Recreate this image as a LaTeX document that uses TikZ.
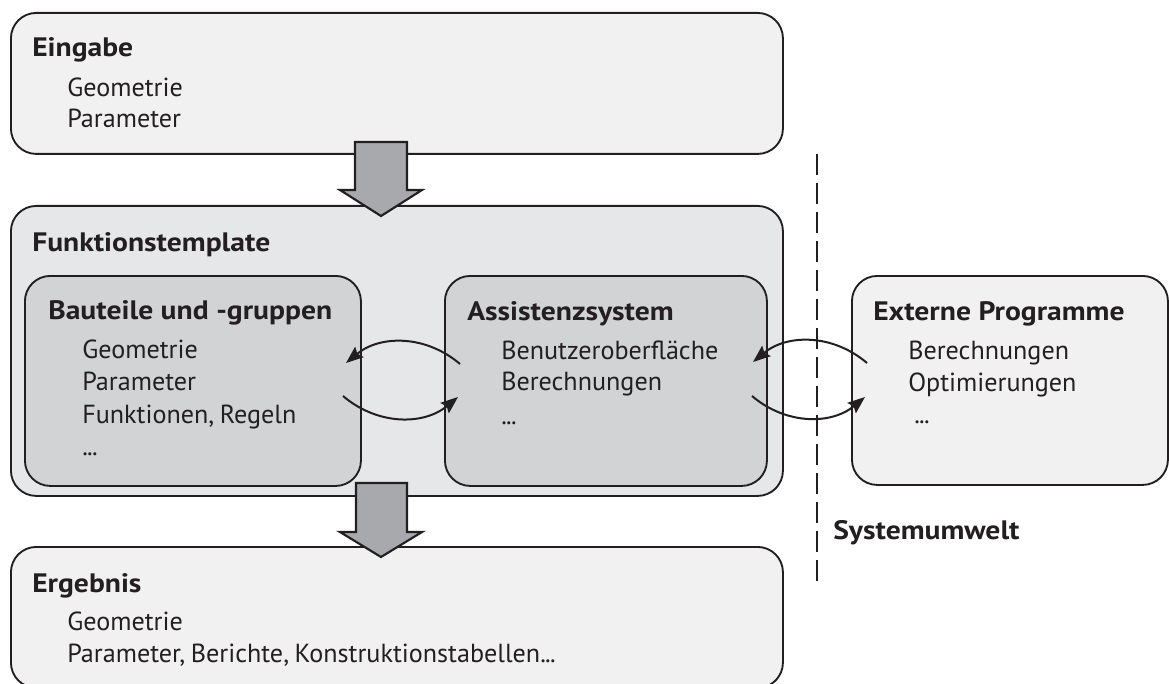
\documentclass[tikz,border=0pt]{standalone}
\usepackage{fontspec}
\setmainfont{PT Sans}[WordSpace=0.8]
\newfontfamily\titelfont{PT Sans}[FakeStretch=1.11]
\usetikzlibrary{arrows.meta}

\definecolor{hell}{HTML}{F1F1F2}
\definecolor{mittel}{HTML}{E6E7E8}
\definecolor{dunkel}{HTML}{D1D3D4}
\definecolor{pfeilgrau}{HTML}{A7A9AC}
\definecolor{linie}{HTML}{231F20}

\newcommand{\punkte}{.\kern-0.5pt.\kern-0.5pt.}

\tikzset{
  kasten/.style={draw=linie, line width=1.4pt, rounded corners=19pt, anchor=north west, inner sep=0pt},
  titel/.style={font=\titelfont\bfseries\fontsize{20}{24}\selectfont, text=linie, anchor=base west, inner sep=0pt},
  eintrag/.style={font=\fontsize{19.6}{24}\selectfont, text=linie, anchor=base west, inner sep=0pt},
  kreis/.style={-{Stealth[length=13pt,width=10pt,inset=2pt]}, draw=linie, line width=1.5pt, bend right=40},
  block/.style={draw=linie, fill=pfeilgrau, line width=1.6pt, line join=miter}
}

\begin{document}
\begin{tikzpicture}[x=0.75pt,y=0.75pt]
    \useasboundingbox (0,0) rectangle (1169,-684);

    % Kaesten
    \node[kasten, fill=hell, minimum width=579pt, minimum height=105.75pt] (eingabe) at (10,-12) {};
    \node[kasten, fill=mittel, minimum width=579pt, minimum height=217.5pt] (template) at (10,-205) {};
    \node[kasten, fill=dunkel, minimum width=252pt, minimum height=157.5pt] (bauteile) at (24,-275) {};
    \node[kasten, fill=dunkel, minimum width=241.5pt, minimum height=157.5pt] (assistenz) at (444,-275) {};
    \node[kasten, fill=hell, minimum width=237pt, minimum height=156.75pt] (extern) at (851,-275) {};
    \node[kasten, fill=hell, minimum width=579pt, minimum height=105.75pt] (ergebnis) at (10,-546) {};

    % Blockpfeile
    \draw[block] (355,-142) -- (407,-142) -- (407,-190) -- (422,-190) -- (381,-216)
        -- (340,-190) -- (355,-190) -- cycle;
    \draw[block] (356,-483) -- (407,-483) -- (407,-532) -- (422,-532) -- (381,-557)
        -- (340,-532) -- (356,-532) -- cycle;

    % Systemgrenze
    \coordinate (grenzeoben) at (817,-154);
    \coordinate (grenzeunten) at (817,-585);
    \draw[draw=linie, line width=2pt, dash pattern=on 15.75pt off 6pt] (grenzeoben) -- (grenzeunten);
    \node[titel] (umwelt) at (833,-539) {Systemumwelt};

    % Texte
    \node[titel] (eingabet) at (32,-57) {Eingabe};
    \node[eintrag] (eingabe1) at (67,-97) {Geometrie};
    \node[eintrag] (eingabe2) at (67,-128) {Parameter};

    \node[titel] (templatet) at (32,-251) {Funktionstemplate};

    \node[titel] (bauteilet) at (48,-319) {Bauteile und -gruppen};
    \node[eintrag] (bauteile1) at (82,-358) {Geometrie};
    \node[eintrag] (bauteile2) at (82,-390) {Parameter};
    \node[eintrag] (bauteile3) at (82,-423) {Funktionen, Regeln};
    \node[eintrag] (bauteile4) at (82,-455) {\punkte};

    \node[titel] (assistenzt) at (467,-320) {Assistenzsystem};
    \node[eintrag] (assistenz1) at (501,-359) {Benutzeroberfläche};
    \node[eintrag] (assistenz2) at (501,-390) {Berechnungen};
    \node[eintrag] (assistenz3) at (501,-424) {\punkte};

    \node[titel] (externt) at (873,-320) {Externe Programme};
    \node[eintrag] (extern1) at (908,-359) {Berechnungen};
    \node[eintrag] (extern2) at (908,-391) {Optimierungen};
    \node[eintrag] (extern3) at (914,-423) {\punkte};

    \node[titel] (ergebnist) at (32,-592) {Ergebnis};
    \node[eintrag] (ergebnis1) at (67,-630) {Geometrie};
    \node[eintrag] (ergebnis2) at (67,-662) {Parameter, Berichte, Konstruktionstabellen\punkte};

    % Kreislaeufe
    \coordinate (ba) at (346,-363);
    \coordinate (bb) at (343,-396);
    \coordinate (aa) at (460,-364);
    \coordinate (ab) at (458,-397);
    \coordinate (ac) at (753,-362);
    \coordinate (ad) at (752,-396);
    \coordinate (ea) at (867,-363);
    \coordinate (eb) at (865,-397);
    \draw[kreis] (aa) to (ba);
    \draw[kreis] (bb) to (ab);
    \draw[kreis] (ea) to (ac);
    \draw[kreis] (ad) to (eb);
\end{tikzpicture}
\end{document}
